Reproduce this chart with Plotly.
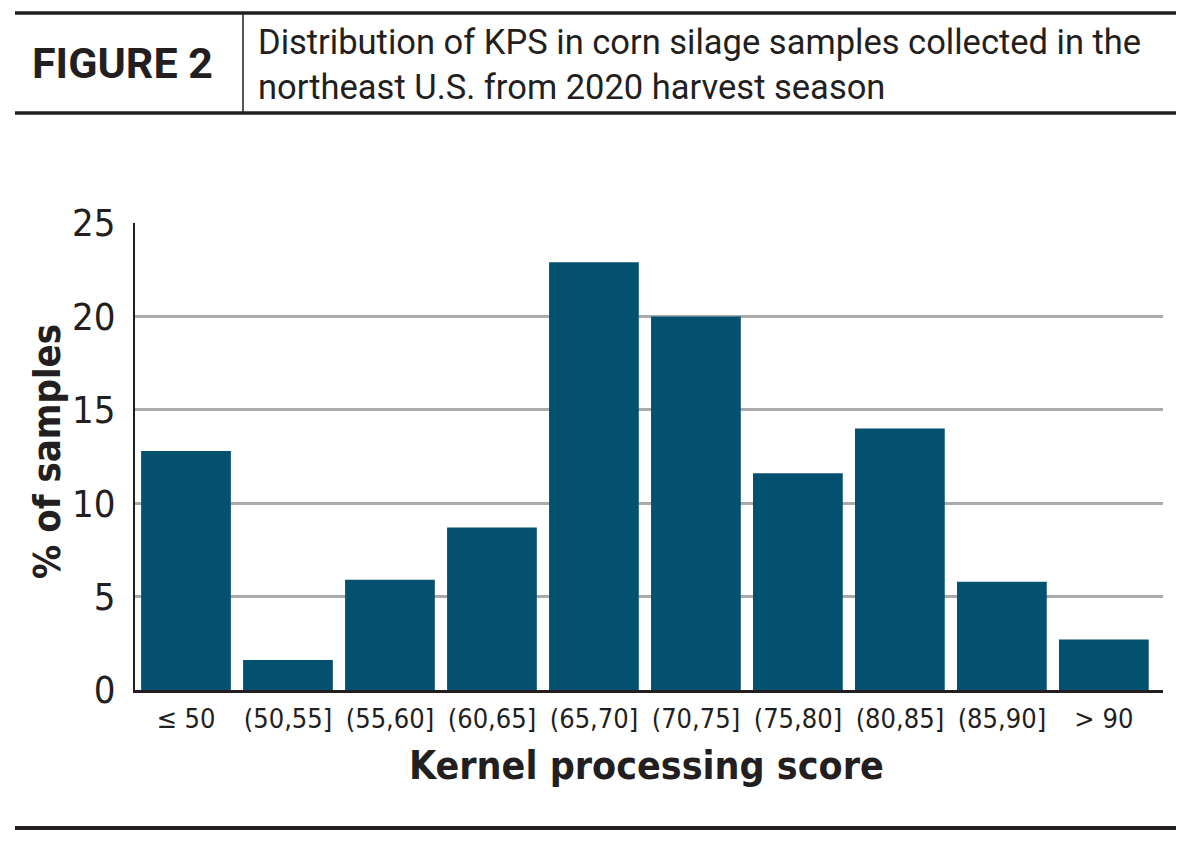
import plotly.graph_objects as go

categories = ["≤ 50", "(50,55]", "(55,60]", "(60,65]", "(65,70]", "(70,75]", "(75,80]", "(80,85]", "(85,90]", "> 90"]
pct_samples = [12.8, 1.6, 5.9, 8.7, 22.9, 20.0, 11.6, 14.0, 5.8, 2.7]
y_ticks = [0, 5, 10, 15, 20, 25]
header_lines = ["Distribution of KPS in corn silage samples collected in the",
                "northeast U.S. from 2020 harvest season"]

W, H = 1200, 851
L, R, T, B = 135, 1163, 223, 690  # plot area in pixels

def px(x):
    return (x - L) / (R - L)

def py(y):
    return (B - y) / (B - T)

TXT = "#231f20"
BAR = "#04516f"
NARROW = "DejaVu Sans Condensed, Roboto, sans-serif"

fig = go.Figure()
fig.add_trace(go.Bar(
    x=list(range(len(categories))), y=pct_samples,
    marker=dict(color=BAR, line=dict(width=0)),
    hoverinfo="x+y",
))

fig.update_layout(
    width=W, height=H,
    margin=dict(l=L, r=W - R, t=T, b=H - B),
    paper_bgcolor="white", plot_bgcolor="white",
    bargap=0.12,
    showlegend=False,
    xaxis=dict(
        tickmode="array", tickvals=list(range(len(categories))), ticktext=categories,
        range=[-0.5, 9.58], showgrid=False, zeroline=False,
        showline=True, linecolor=TXT, linewidth=3,
        ticks="", ticklabelstandoff=3,
        tickfont=dict(family=NARROW, size=27, color=TXT),
    ),
    yaxis=dict(
        range=[0, 25], tickvals=y_ticks, showgrid=True, gridcolor="#aaaaaa", gridwidth=2.5,
        zeroline=False, showline=True, linecolor=TXT, linewidth=2,
        ticks="", ticklabelstandoff=10,
        tickfont=dict(family=NARROW, size=38, color=TXT),
    ),
)

ann = []
ann.append(dict(text="<b>Kernel processing score</b>", x=px(646), y=py(765), xref="paper", yref="paper",
                showarrow=False, xanchor="center", yanchor="middle",
                font=dict(family=NARROW, size=39, color=TXT)))
ann.append(dict(text="<b>% of samples</b>", x=px(47), y=py(452), xref="paper", yref="paper",
                showarrow=False, xanchor="center", yanchor="middle", textangle=-90,
                font=dict(family=NARROW, size=38, color=TXT)))
ann.append(dict(text="<b>FIGURE 2</b>", x=px(122), y=py(63), xref="paper", yref="paper",
                showarrow=False, xanchor="center", yanchor="middle",
                font=dict(family="Roboto, sans-serif", size=43, color=TXT)))
ann.append(dict(text="<br>".join(header_lines), x=px(256), y=py(64), xref="paper", yref="paper",
                align="left", showarrow=False, xanchor="left", yanchor="middle",
                font=dict(family="Roboto, sans-serif", size=34.5, color=TXT)))
fig.update_layout(annotations=ann)

shapes = [
    dict(type="line", x0=px(15), x1=px(1176), y0=py(13), y1=py(13), line=dict(color=TXT, width=3.5)),
    dict(type="line", x0=px(15), x1=px(1176), y0=py(113), y1=py(113), line=dict(color=TXT, width=3.5)),
    dict(type="line", x0=px(243), x1=px(243), y0=py(14), y1=py(112), line=dict(color=TXT, width=1.5)),
    dict(type="line", x0=px(15), x1=px(1176), y0=py(828), y1=py(828), line=dict(color=TXT, width=4)),
]
for s in shapes:
    s.update(xref="paper", yref="paper")
fig.update_layout(shapes=shapes)

fig.write_html("out.html")
